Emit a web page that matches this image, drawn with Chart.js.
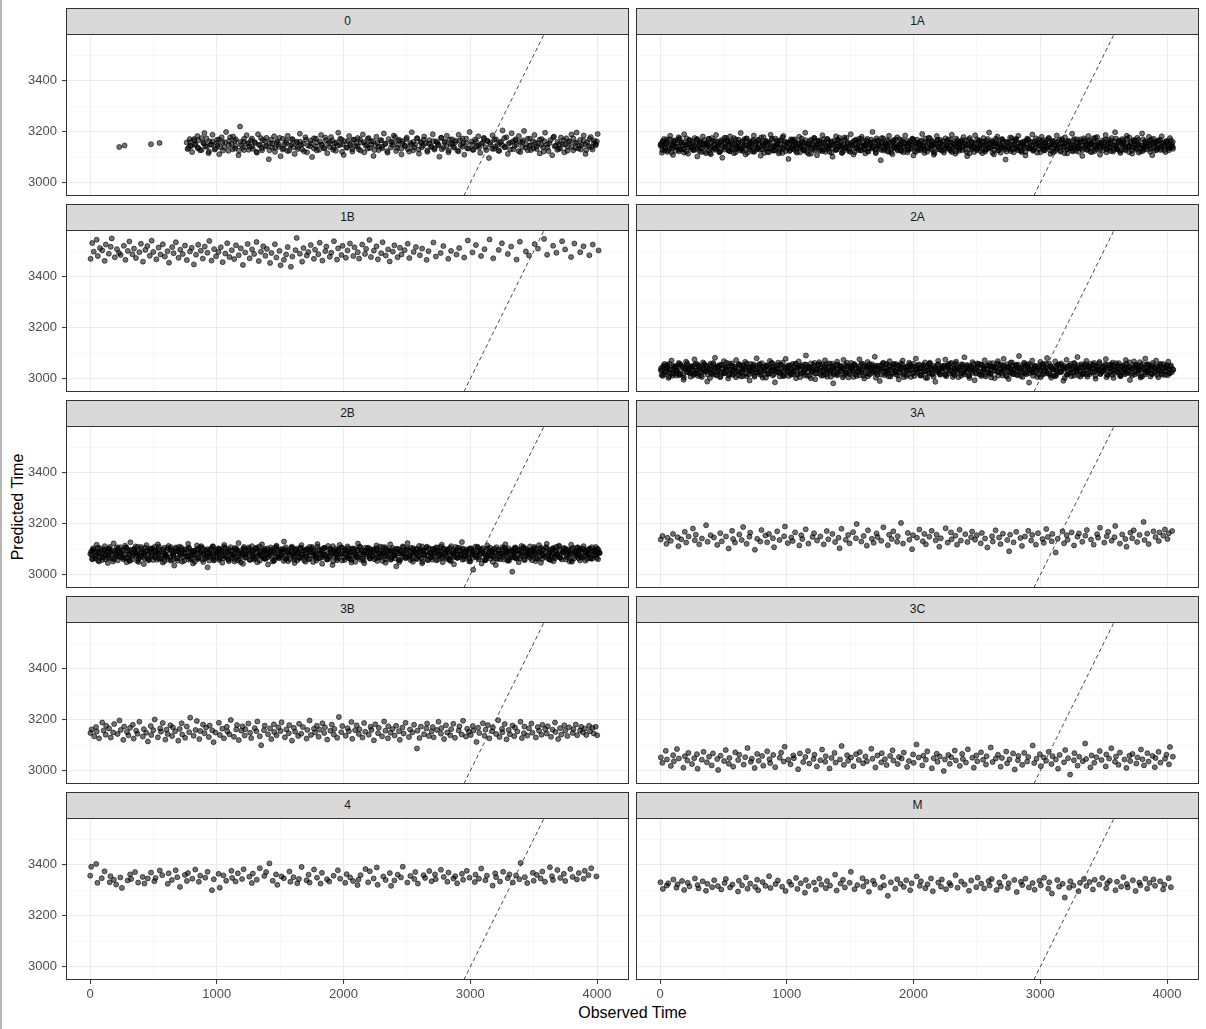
<!DOCTYPE html>
<html>
<head>
<meta charset="utf-8">
<script src="https://cdn.jsdelivr.net/npm/chart.js@4/dist/chart.umd.min.js"></script>
<style>
  html, body { margin: 0; padding: 0; background: #ffffff; }
  body { position: relative; width: 1206px; height: 1029px; overflow: hidden; font-family: "Liberation Sans", Arial, sans-serif; }
  .strip { position: absolute; background: #d9d9d9; border: 1px solid #333333; box-sizing: border-box; text-align: center; font-size: 12px; color: #1a1a1a; line-height: 25px; }
  canvas { position: absolute; }
  .xtitle { position: absolute; left: 66px; width: 1133px; top: 1004px; text-align: center; font-size: 16px; color: #000; line-height: 18px; }
  .ytitle { position: absolute; left: 18px; top: 507px; font-size: 16px; color: #000; white-space: nowrap; transform: translate(-50%, -50%) rotate(-90deg); line-height: 18px; }
  .edge { position: absolute; left: 0; top: 0; width: 2px; height: 1029px; background: #b5b5b5; }
</style>
</head>
<body>
<div class="edge"></div>
<div class="ytitle">Predicted Time</div>
<div class="xtitle">Observed Time</div>
<script>
// ---- facet labels and axis ticks ----
const panelNames = ['0', '1A', '1B', '2A', '2B', '3A', '3B', '3C', '4', 'M'];
const xTickValues = [0, 1000, 2000, 3000, 4000];
const xGridValues = [0, 500, 1000, 1500, 2000, 2500, 3000, 3500, 4000];
const yTickValues = [3000, 3200, 3400];
const yGridValues = [3000, 3100, 3200, 3300, 3400, 3500];
const xLimits = [-190, 4252];
const yLimits = [2948, 3583];
const identityEnds = [2900, 3700]; // y = x reference line

// ---- panel 0 ----
const obs_0 = [230,272,480,548,
762,769,786,791,805,823,829,847,853,868,880,897,902,921,934,940,
958,966,983,1001,1006,1019,1038,1044,1060,1073,1091,1097,1115,1128,1144,1150,1171,1183,1192,1210,
1216,1235,1249,1256,1277,1284,1298,1316,1325,1341,1357,1363,1384,1392,1410,1419,1436,1452,1459,1478,
1490,1503,1521,1527,1546,1559,1572,1590,1598,1614,1631,1640,1655,1673,1681,1699,1712,1720,1741,1752,
1766,1781,1789,1807,1823,1830,1849,1862,1871,1890,1901,1918,1931,1939,1958,1972,1983,2001,2009,2027,
2044,2050,2069,2083,2096,2111,2120,2138,2152,2163,2180,2191,2208,2217,2236,2251,2259,2277,2290,2302,
2318,2331,2347,2355,2374,2388,2396,2415,2429,2440,2457,2466,2484,2499,2507,2526,2538,2550,2566,2579,
2595,2608,2617,2636,2649,2661,2677,2690,2704,2717,2731,2745,2756,2772,2788,2797,2815,2827,2843,2856,
2866,2884,2899,2908,2925,2937,2953,2968,2976,2995,3010,3019,3037,3050,3063,3078,3089,3107,3119,3133,
3147,3158,3176,3188,3202,3216,3229,3243,3254,3271,3285,3296,3313,3326,3339,3354,3365,3383,3395,3409,
3424,3436,3451,3467,3478,3494,3506,3521,3535,3548,3563,3575,3590,3605,3617,3632,3646,3659,3673,3688,
3699,3715,3728,3742,3757,3769,3784,3798,3812,3826,3839,3853,3867,3880,3895,3909,3922,3937,3950,3964,
3978,3991,4005,
775,789,798,820,831,849,855,880,893,910,918,938,953,963,987,999,1018,1025,1048,1064,
1095,1105,1126,1142,1149,1175,1187,1206,1215,1238,1252,1270,1278,1302,1313,1333,1348,1354,1381,1394,
1415,1429,1438,1460,1471,1489,1495,1520,1533,1550,1558,1578,1593,1603,1627,1639,1658,1665,1688,1704,
1735,1745,1766,1782,1789,1815,1827,1846,1855,1878,1892,1910,1918,1942,1953,1973,1988,1994,2021,2034,
2055,2069,2078,2100,2111,2129,2135,2160,2173,2190,2198,2218,2233,2243,2267,2279,2298,2305,2328,2344,
2375,2385,2406,2422,2429,2455,2467,2486,2495,2518,2532,2550,2558,2582,2593,2613,2628,2634,2661,2674,
2695,2709,2718,2740,2751,2769,2775,2800,2813,2830,2838,2858,2873,2883,2907,2919,2938,2945,2968,2984,
3015,3025,3046,3062,3069,3095,3107,3126,3135,3158,3172,3190,3198,3222,3233,3253,3268,3274,3301,3314,
3335,3349,3358,3380,3391,3409,3415,3440,3453,3470,3478,3498,3513,3523,3547,3559,3578,3585,3608,3624,
3655,3665,3686,3702,3709,3735,3747,3766,3775,3798,3812,3830,3838,3862,3873,3893,3908,3914,3941,3954,
3975,3989,3998];
const pred_0 = [3140,3146,3151,3156,
3158,3132,3171,3145,3120,3166,3149,3183,3137,3127,3175,3154,3195,3141,3116,3162,3150,3188,3130,3168,
3146,3112,3178,3159,3139,3199,3125,3164,3152,3181,3135,3170,3108,3220,3147,3161,3128,3186,3156,3141,
3173,3133,3160,3118,3190,3148,3127,3167,3143,3176,3092,3155,3138,3182,3121,3163,3150,3104,3172,3135,
3157,3184,3126,3149,3169,3113,3161,3140,3192,3131,3153,3178,3119,3146,3165,3101,3174,3142,3158,3129,
3187,3150,3134,3167,3116,3160,3179,3139,3155,3125,3196,3148,3170,3109,3163,3137,3183,3152,3122,3168,
3144,3175,3131,3158,3189,3119,3151,3172,3136,3162,3105,3147,3180,3128,3166,3141,3193,3153,3118,3171,
3138,3159,3185,3124,3149,3168,3111,3163,3145,3177,3132,3156,3198,3127,3150,3174,3114,3160,3139,3181,
3155,3121,3167,3143,3190,3130,3162,3148,3102,3176,3137,3158,3184,3119,3152,3170,3141,3165,3126,3188,
3147,3173,3110,3156,3135,3199,3161,3129,3169,3144,3182,3117,3153,3176,3139,3164,3097,3158,3186,3133,
3170,3148,3125,3161,3205,3140,3178,3113,3157,3194,3131,3166,3149,3183,3120,3159,3203,3137,3172,3146,
3128,3163,3187,3142,3154,3115,3171,3139,3196,3150,3124,3167,3108,3181,3145,3160,3133,3177,3152,3119,
3174,3141,3162,3189,3127,3156,3197,3134,3168,3148,3185,3113,3159,3143,3179,3130,3165,3151,3191,3136,
3160,3144,3171,
3151,3136,3167,3128,3157,3143,3174,3122,3149,3162,3133,3155,3170,3140,3126,3159,3147,3178,3131,3164,
3145,3125,3160,3138,3172,3152,3129,3166,3142,3156,3121,3148,3175,3135,3163,3144,3127,3169,3153,3137,
3158,3141,3176,3130,3150,3165,3124,3146,3171,3139,3157,3132,3161,3149,3123,3168,3143,3154,3134,3173,
3127,3162,3148,3136,3177,3153,3140,3166,3129,3158,3145,3172,3121,3151,3138,3164,3147,3131,3169,3155,
3142,3170,3126,3159,3146,3134,3175,3150,3163,3128,3156,3141,3167,3135,3152,3124,3160,3148,3179,3137,
3165,3133,3154,3143,3171,3122,3149,3160,3139,3174,3130,3157,3146,3168,3127,3153,3140,3163,3135,3158,
3148,3176,3131,3162,3144,3126,3169,3152,3138,3159,3123,3166,3141,3155,3173,3134,3150,3129,3161,3145,
3137,3156,3172,3128,3164,3149,3133,3168,3142,3125,3158,3147,3175,3139,3153,3130,3162,3144,3170,3124,
3160,3140,3166,3151,3127,3173,3146,3135,3157,3132,3169,3148,3122,3163,3138,3155,3177,3143,3129,3152,
3134,3167,3149,3125,3161,3141,3174,3136,3158,3145,3130,3165,3150,3128,3171,3139,3156,3147,3162,3133,
3154,3143,3160];

// ---- panel 1A ----
const obs_1A = [6,14,31,38,55,63,80,97,102,119,128,146,151,170,183,190,207,221,229,248,
256,273,285,294,312,318,337,349,361,376,384,401,417,423,442,450,468,479,491,508,
515,533,547,552,571,582,596,611,617,636,648,659,675,684,703,711,729,740,754,768,
775,794,807,816,833,845,858,872,881,899,910,924,937,946,965,973,991,1004,1013,1032,
1040,1057,1071,1079,1098,1106,1123,1137,1145,1164,1172,1190,1201,1215,1229,1238,1256,1267,1281,1294,
1303,1321,1330,1347,1361,1369,1388,1395,1413,1426,1434,1453,1462,1479,1490,1504,1518,1527,1545,1556,
1569,1583,1591,1610,1619,1636,1649,1657,1676,1684,1702,1713,1727,1741,1749,1768,1777,1794,1806,1819,
1833,1842,1860,1871,1885,1898,1907,1925,1934,1951,1963,1976,1990,1999,2017,2026,2043,2055,2068,2082,
2090,2109,2118,2135,2147,2160,2174,2183,2201,2210,2227,2240,2252,2266,2275,2293,2302,2320,2331,2344,
2358,2366,2385,2394,2411,2423,2436,2450,2459,2477,2486,2503,2515,2528,2542,2551,2569,2578,2596,2607,
2620,2634,2643,2661,2670,2687,2699,2712,2726,2735,2753,2762,2779,2791,2804,2818,2827,2845,2854,2872,
2883,2896,2910,2919,2937,2946,2963,2975,2988,3002,3011,3029,3038,3055,3067,3080,3094,3103,3121,3130,
3147,3159,3172,3186,3195,3213,3222,3239,3251,3264,3278,3287,3305,3314,3331,3343,3356,3370,3379,3397,
3406,3423,3435,3448,3462,3471,3489,3498,3515,3527,3540,3554,3563,3581,3590,3607,3619,3632,3646,3655,
3673,3682,3699,3711,3724,3738,3747,3765,3774,3791,3803,3816,3830,3839,3857,3866,3883,3895,3908,3922,
3931,3949,3958,3975,3987,4000,4014,4023,4038,4047,
3,18,22,40,50,57,78,91,97,113,124,143,146,160,169,189,197,209,226,231,
253,266,274,294,298,314,325,343,349,364,373,394,397,409,426,433,452,462,476,481,
503,514,520,539,547,562,565,587,597,611,618,635,647,652,672,681,697,710,714,732,
743,752,769,774,787,807,818,822,838,846,868,882,888,907,919,922,940,950,965,972,
993,1000,1021,1033,1042,1058,1063,1077,1096,1104,1117,1120,1137,1147,1169,1175,1190,1201,1219,1223,
1243,1258,1262,1280,1290,1297,1318,1331,1337,1353,1364,1383,1386,1400,1409,1429,1437,1449,1466,1471,
1493,1506,1514,1534,1538,1554,1565,1583,1589,1604,1613,1634,1637,1649,1666,1673,1692,1702,1716,1721,
1743,1754,1760,1779,1787,1802,1805,1827,1837,1851,1858,1875,1887,1892,1912,1921,1937,1950,1954,1972,
1983,1992,2009,2014,2027,2047,2058,2062,2078,2086,2108,2122,2128,2147,2159,2162,2180,2190,2205,2212,
2233,2240,2261,2273,2282,2298,2303,2317,2336,2344,2357,2360,2377,2387,2409,2415,2430,2441,2459,2463,
2483,2498,2502,2520,2530,2537,2558,2571,2577,2593,2604,2623,2626,2640,2649,2669,2677,2689,2706,2711,
2733,2746,2754,2774,2778,2794,2805,2823,2829,2844,2853,2874,2877,2889,2906,2913,2932,2942,2956,2961,
2983,2994,3000,3019,3027,3042,3045,3067,3077,3091,3098,3115,3127,3132,3152,3161,3177,3190,3194,3212,
3223,3232,3249,3254,3267,3287,3298,3302,3318,3326,3348,3362,3368,3387,3399,3402,3420,3430,3445,3452,
3473,3480,3501,3513,3522,3538,3543,3557,3576,3584,3597,3600,3617,3627,3649,3655,3670,3681,3699,3703,
3723,3738,3742,3760,3770,3777,3798,3811,3817,3833,3844,3863,3866,3880,3889,3909,3917,3929,3946,3951,
3973,3986,3994,4014,4018,4034,4045,
10,19,36,41,54,74,85,89,105,113,135,149,155,174,186,189,207,217,232,239,
260,267,288,300,309,325,330,344,363,371,384,387,404,414,436,442,457,468,486,490,
510,523,531,551,555,571,582,600,606,621,630,651,654,666,683,690,709,719,733,738,
760,775,779,797,807,814,835,848,854,870,881,900,903,917,926,946,954,966,983,988,
1010,1021,1027,1046,1054,1069,1072,1094,1104,1118,1125,1142,1154,1159,1179,1188,1204,1217,1221,1239,
1250,1259,1276,1281,1294,1314,1325,1329,1345,1353,1375,1389,1395,1414,1426,1429,1447,1457,1472,1479,
1500,1507,1528,1540,1549,1565,1570,1584,1603,1611,1624,1627,1644,1654,1676,1682,1697,1708,1726,1730,
1750,1763,1771,1791,1795,1811,1822,1840,1846,1861,1870,1891,1894,1906,1923,1930,1949,1959,1973,1978,
2000,2015,2019,2037,2047,2054,2075,2088,2094,2110,2121,2140,2143,2157,2166,2186,2194,2206,2223,2228,
2250,2261,2267,2286,2294,2309,2312,2334,2344,2358,2365,2382,2394,2399,2419,2428,2444,2457,2461,2479,
2490,2499,2516,2521,2534,2554,2565,2569,2585,2593,2615,2629,2635,2654,2666,2669,2687,2697,2712,2719,
2740,2747,2768,2780,2789,2805,2810,2824,2843,2851,2864,2867,2884,2894,2916,2922,2937,2948,2966,2970,
2990,3003,3011,3031,3035,3051,3062,3080,3086,3101,3110,3131,3134,3146,3163,3170,3189,3199,3213,3218,
3240,3255,3259,3277,3287,3294,3315,3328,3334,3350,3361,3380,3383,3397,3406,3426,3434,3446,3463,3468,
3490,3501,3507,3526,3534,3549,3552,3574,3584,3598,3605,3622,3634,3639,3659,3668,3684,3697,3701,3719,
3730,3739,3756,3761,3774,3794,3805,3809,3825,3833,3855,3869,3875,3894,3906,3909,3927,3937,3952,3959,
3980,3987,4008,4020,4029,4045];
const pred_1A = [3152,3118,3171,3136,3160,3127,3184,3144,3109,3166,3139,3178,3123,3157,3131,3190,3148,3114,3168,3141,
3129,3175,3150,3103,3162,3137,3181,3121,3155,3146,3172,3112,3164,3133,3187,3142,3120,3158,3098,3176,
3140,3163,3125,3182,3151,3116,3170,3134,3159,3195,3128,3147,3111,3174,3138,3161,3122,3185,3145,3131,
3167,3106,3153,3179,3136,3160,3119,3188,3143,3127,3173,3150,3115,3165,3139,3183,3124,3157,3093,3170,
3135,3162,3148,3118,3180,3141,3157,3126,3196,3150,3113,3168,3132,3176,3144,3108,3163,3129,3186,3152,
3121,3171,3139,3159,3102,3147,3182,3130,3165,3143,3117,3177,3136,3154,3124,3190,3149,3111,3169,3138,
3161,3127,3180,3146,3115,3172,3134,3158,3199,3141,3120,3166,3150,3088,3175,3131,3155,3123,3184,3144,
3112,3167,3137,3178,3148,3126,3162,3140,3185,3119,3156,3133,3173,3107,3152,3169,3128,3145,3191,3135,
3159,3122,3176,3142,3164,3110,3150,3183,3131,3168,3146,3118,3174,3139,3155,3125,3188,3143,3114,3166,
3136,3160,3128,3179,3149,3104,3170,3141,3157,3120,3186,3134,3163,3147,3116,3175,3130,3152,3197,3138,
3165,3111,3154,3181,3127,3145,3171,3137,3091,3161,3132,3177,3148,3119,3167,3140,3184,3124,3156,3143,
3107,3173,3135,3160,3189,3129,3151,3118,3169,3144,3180,3126,3158,3138,3176,3113,3164,3147,3131,3185,
3150,3122,3167,3140,3178,3115,3157,3134,3192,3146,3125,3170,3139,3161,3105,3174,3143,3129,3183,3153,
3120,3163,3136,3179,3148,3110,3166,3141,3187,3130,3158,3124,3175,3145,3198,3133,3162,3117,3171,3151,
3127,3184,3142,3159,3114,3168,3137,3176,3149,3123,3193,3140,3163,3131,3180,3146,3108,3172,3155,3135,
3166,3128,3182,3144,3120,3161,3139,3175,3150,3133,
3147,3128,3163,3139,3155,3121,3170,3134,3151,3160,3125,3143,3168,3131,3157,3118,3149,3174,3137,3153,
3162,3127,3145,3171,3133,3158,3120,3148,3166,3140,3154,3116,3136,3175,3150,3129,3161,3144,3123,3167,
3138,3156,3176,3126,3146,3164,3132,3152,3119,3141,3169,3135,3159,3124,3148,3172,3130,3155,3142,3163,
3121,3150,3137,3168,3129,3157,3145,3117,3161,3134,3153,3173,3126,3146,3139,3165,3122,3151,3178,3132,
3158,3141,3124,3164,3148,3131,3170,3136,3155,3119,3160,3143,3127,3167,3138,3152,3114,3147,3174,3133,
3149,3166,3125,3140,3157,3130,3171,3145,3121,3162,3136,3154,3128,3168,3142,3159,3118,3151,3137,3176,
3131,3156,3144,3120,3165,3139,3152,3127,3172,3147,3134,3161,3123,3149,3169,3135,3158,3116,3143,3163,
3129,3153,3174,3138,3146,3122,3164,3132,3157,3141,3170,3126,3150,3137,3167,3119,3155,3144,3130,3162,
3148,3171,3124,3159,3136,3152,3128,3166,3142,3117,3160,3135,3175,3146,3121,3156,3139,3168,3131,3153,
3163,3127,3145,3169,3134,3158,3120,3150,3173,3138,3155,3125,3161,3143,3130,3166,3148,3115,3157,3136,
3152,3133,3170,3140,3124,3162,3147,3129,3165,3137,3154,3118,3159,3144,3172,3126,3151,3135,3164,3141,
3122,3157,3139,3175,3131,3149,3167,3128,3156,3143,3120,3161,3136,3153,3170,3134,3147,3125,3163,3138,
3158,3145,3119,3166,3132,3154,3140,3172,3127,3150,3160,3123,3146,3135,3168,3141,3157,3116,3152,3130,
3164,3137,3149,3126,3171,3143,3155,3121,3159,3134,3167,3148,3129,3162,3139,3153,3174,3124,3145,3160,
3132,3156,3142,3169,3119,3151,3136,3165,3128,3147,3173,3138,3158,3123,3144,3166,3131,3154,3140,3177,
3126,3150,3163,3135,3157,3118,3146,3170,3130,3152,3142,3165,3122,3155,3137,3161,3128,3149,3168,3133,
3156,3141,3164,3127,3151,3139,3160,
3143,3161,3126,3152,3170,3135,3148,3119,3165,3140,3156,3129,3174,3146,3133,3159,3122,3150,3167,3138,
3155,3131,3169,3144,3124,3160,3137,3153,3116,3147,3172,3128,3157,3141,3164,3134,3151,3120,3162,3145,
3130,3166,3149,3123,3158,3139,3175,3132,3154,3143,3127,3163,3136,3171,3148,3118,3156,3141,3168,3125,
3160,3137,3152,3177,3129,3146,3164,3121,3155,3134,3170,3142,3126,3158,3150,3133,3166,3117,3147,3161,
3136,3153,3128,3169,3144,3159,3123,3151,3138,3173,3131,3157,3145,3120,3163,3135,3154,3167,3127,3149,
3162,3139,3156,3124,3171,3142,3133,3160,3148,3118,3165,3130,3152,3176,3137,3146,3125,3168,3143,3157,
3121,3150,3164,3135,3155,3128,3172,3141,3158,3132,3147,3166,3122,3153,3139,3161,3129,3174,3144,3134,
3159,3126,3148,3167,3140,3155,3119,3163,3137,3151,3131,3170,3145,3124,3157,3142,3165,3128,3152,3136,
3168,3143,3121,3156,3134,3162,3147,3127,3173,3139,3154,3130,3160,3149,3117,3166,3141,3158,3125,3150,
3135,3163,3145,3129,3170,3138,3153,3123,3159,3146,3132,3167,3142,3156,3120,3148,3175,3131,3161,3140,
3154,3127,3166,3143,3136,3160,3122,3149,3171,3134,3157,3144,3128,3164,3139,3152,3118,3169,3146,3130,
3158,3141,3124,3163,3150,3133,3172,3137,3155,3126,3161,3147,3121,3166,3143,3135,3159,3129,3174,3151,
3132,3162,3140,3157,3127,3168,3145,3138,3153,3119,3164,3136,3160,3148,3125,3171,3142,3155,3131,3163,
3147,3123,3165,3139,3158,3134,3170,3144,3128,3161,3150,3137,3167,3121,3154,3143,3176,3130,3156,3141,
3126,3159,3148,3133,3169,3140,3155,3122,3162,3145,3131,3166,3152,3127,3160,3138,3173,3144,3120,3157,
3139,3164,3129,3151,3168,3135,3146,3124,3161,3142,3156,3132,3170,3148,3126,3159,3137,3165,3143,3153,
3128,3160,3145,3134,3166,3141];

// ---- panel 1B ----
const obs_1B = [4,17,29,52,61,78,96,115,124,148,163,171,195,212,228,241,266,279,298,310,
334,347,362,389,401,417,436,452,471,486,499,523,541,556,574,590,611,623,648,659,
677,698,712,731,749,763,788,802,819,836,853,874,889,905,926,941,958,979,994,1013,
1031,1046,1067,1082,1100,1118,1137,1151,1173,1189,1206,1224,1243,1259,1278,1294,1313,1331,1348,1366,
1383,1395,1420,1431,1458,1470,1494,1503,1529,1547,1559,1584,1596,1621,1630,1655,1673,1684,1709,1722,
1741,1766,1775,1801,1812,1833,1856,1864,1891,1903,1924,1948,1957,1983,1992,2018,2031,2050,2077,2086,
2112,2123,2147,2169,2178,2204,2216,2239,2260,2271,2297,2308,2333,2352,2364,2389,2401,2426,2445,2457,
2482,2506,2519,2553,2571,2602,2620,2655,2670,2709,2728,2766,2787,2826,2848,2891,2912,2952,2980,3017,
3044,3085,3112,3152,3181,3224,3249,3296,3322,3365,3391,3438,3463,3507,3534,3582,3606,3653,3679,3724,
3748,3795,3821,3867,3893,3939,3966,4012];
const pred_1B = [3470,3532,3498,3545,3481,3512,3503,3462,3526,3490,3517,3550,3476,3508,3493,3485,3521,3466,3501,3538,
3488,3510,3473,3496,3529,3459,3505,3520,3482,3541,3497,3468,3514,3487,3527,3479,3500,3455,3516,3492,
3535,3474,3506,3489,3522,3465,3499,3513,3448,3486,3525,3502,3471,3518,3494,3540,3463,3508,3480,3497,
3515,3457,3491,3531,3477,3504,3469,3523,3484,3511,3446,3495,3528,3472,3507,3489,3536,3461,3498,3519,
3482,3509,3454,3493,3527,3475,3501,3445,3466,3487,3516,3439,3479,3504,3552,3490,3459,3512,3483,3497,
3524,3470,3506,3488,3533,3463,3500,3518,3478,3494,3539,3467,3511,3485,3521,3474,3503,3530,3481,3515,
3496,3471,3526,3489,3509,3544,3477,3502,3519,3468,3492,3535,3483,3507,3460,3498,3523,3476,3513,3487,
3504,3529,3473,3497,3516,3484,3510,3466,3500,3534,3479,3493,3520,3470,3501,3487,3512,3475,3542,3495,
3524,3481,3508,3546,3472,3505,3531,3489,3518,3467,3537,3499,3483,3528,3510,3548,3486,3521,3494,3539,
3507,3477,3530,3496,3519,3484,3526,3503];

// ---- panel 2A ----
const obs_2A = [9,21,33,40,58,67,83,90,109,118,131,147,152,170,186,194,205,223,236,241,
259,271,280,298,307,322,339,345,363,372,388,396,414,428,433,451,466,474,490,503,
512,529,537,555,568,576,593,600,619,633,640,657,671,679,698,706,721,737,745,762,
777,784,803,810,826,841,849,866,880,888,906,913,931,944,952,969,984,991,1009,1017,
1035,1046,1055,1073,1087,1094,1112,1120,1138,1151,1159,1176,1190,1197,1216,1224,1240,1255,1262,1280,
1293,1301,1319,1327,1344,1358,1366,1383,1397,1404,1423,1430,1447,1462,1469,1487,1500,1508,1526,1534,
1551,1565,1573,1590,1604,1611,1630,1637,1654,1669,1676,1694,1707,1715,1733,1741,1758,1772,1780,1797,
1811,1818,1837,1844,1861,1876,1883,1901,1914,1922,1940,1948,1965,1979,1987,2004,2018,2025,2044,2051,
2068,2083,2090,2108,2121,2129,2147,2155,2172,2186,2194,2211,2225,2232,2251,2258,2275,2290,2297,2315,
2328,2336,2354,2362,2379,2393,2401,2418,2432,2439,2458,2465,2482,2497,2504,2522,2535,2543,2561,2569,
2586,2600,2608,2625,2639,2646,2665,2672,2689,2704,2711,2729,2742,2750,2768,2776,2793,2807,2815,2832,
2846,2853,2872,2879,2896,2911,2918,2936,2949,2957,2975,2983,3000,3014,3022,3039,3053,3060,3079,3086,
3103,3118,3125,3143,3156,3164,3182,3190,3207,3221,3229,3246,3260,3267,3286,3293,3310,3325,3332,3350,
3363,3371,3389,3397,3414,3428,3436,3453,3467,3474,3493,3500,3517,3532,3539,3557,3570,3578,3596,3604,
3621,3635,3643,3660,3674,3681,3700,3707,3724,3739,3746,3764,3777,3785,3803,3811,3828,3842,3850,3867,
3881,3888,3907,3914,3931,3946,3953,3971,3984,3992,4010,4018,4031,4046,
5,12,33,45,54,70,75,89,108,116,129,132,149,159,181,187,202,213,231,235,
255,264,281,286,299,319,330,334,350,358,380,394,400,419,431,434,452,462,477,484,
505,516,522,541,549,564,567,589,599,613,620,637,649,654,674,683,699,712,716,734,
745,758,766,786,790,806,817,835,841,856,865,886,889,901,918,925,944,954,968,973,
995,1010,1014,1032,1042,1049,1070,1083,1089,1105,1116,1135,1138,1152,1161,1181,1189,1201,1218,1223,
1245,1252,1273,1285,1294,1310,1315,1329,1348,1356,1369,1372,1389,1399,1421,1427,1442,1453,1471,1475,
1495,1504,1521,1526,1539,1559,1570,1574,1590,1598,1620,1634,1640,1659,1671,1674,1692,1702,1717,1724,
1745,1756,1762,1781,1789,1804,1807,1829,1839,1853,1860,1877,1889,1894,1914,1923,1939,1952,1956,1974,
1985,1998,2006,2026,2030,2046,2057,2075,2081,2096,2105,2126,2129,2141,2158,2165,2184,2194,2208,2213,
2235,2250,2254,2272,2282,2289,2310,2323,2329,2345,2356,2375,2378,2392,2401,2421,2429,2441,2458,2463,
2485,2492,2513,2525,2534,2550,2555,2569,2588,2596,2609,2612,2629,2639,2661,2667,2682,2693,2711,2715,
2735,2744,2761,2766,2779,2799,2810,2814,2830,2838,2860,2874,2880,2899,2911,2914,2932,2942,2957,2964,
2985,2996,3002,3021,3029,3044,3047,3069,3079,3093,3100,3117,3129,3134,3154,3163,3179,3192,3196,3214,
3225,3238,3246,3266,3270,3286,3297,3315,3321,3336,3345,3366,3369,3381,3398,3405,3424,3434,3448,3453,
3475,3490,3494,3512,3522,3529,3550,3563,3569,3585,3596,3615,3618,3632,3641,3661,3669,3681,3698,3703,
3725,3732,3753,3765,3774,3790,3795,3809,3828,3836,3849,3852,3869,3879,3901,3907,3922,3933,3951,3955,
3975,3984,4001,4006,4019,4039,
14,25,31,50,58,73,76,98,108,122,129,146,158,163,183,192,208,221,225,243,
254,269,273,291,301,308,329,342,348,364,375,394,397,411,420,440,448,460,477,482,
504,517,525,545,549,565,576,594,600,615,624,645,648,660,677,684,703,713,727,732,
754,761,782,794,803,819,824,838,857,865,878,881,898,908,930,936,951,962,980,984,
1004,1013,1030,1035,1048,1068,1079,1083,1099,1107,1129,1143,1149,1168,1180,1183,1201,1211,1226,1233,
1254,1265,1271,1290,1298,1313,1316,1338,1348,1362,1369,1386,1398,1403,1423,1432,1448,1461,1465,1483,
1494,1509,1513,1531,1541,1548,1569,1582,1588,1604,1615,1634,1637,1651,1660,1680,1688,1700,1717,1722,
1744,1757,1765,1785,1789,1805,1816,1834,1840,1855,1864,1885,1888,1900,1917,1924,1943,1953,1967,1972,
1994,2001,2022,2034,2043,2059,2064,2078,2097,2105,2118,2121,2138,2148,2170,2176,2191,2202,2220,2224,
2244,2253,2270,2275,2288,2308,2319,2323,2339,2347,2369,2383,2389,2408,2420,2423,2441,2451,2466,2473,
2494,2505,2511,2530,2538,2553,2556,2578,2588,2602,2609,2626,2638,2643,2663,2672,2688,2701,2705,2723,
2734,2749,2753,2771,2781,2788,2809,2822,2828,2844,2855,2874,2877,2891,2900,2920,2928,2940,2957,2962,
2984,2997,3005,3025,3029,3045,3056,3074,3080,3095,3104,3125,3128,3140,3157,3164,3183,3193,3207,3212,
3234,3241,3262,3274,3283,3299,3304,3318,3337,3345,3358,3361,3378,3388,3410,3416,3431,3442,3460,3464,
3484,3493,3510,3515,3528,3548,3559,3563,3579,3587,3609,3623,3629,3648,3660,3663,3681,3691,3706,3713,
3734,3745,3751,3770,3778,3793,3796,3818,3828,3842,3849,3866,3878,3883,3903,3912,3928,3941,3945,3963,
3974,3989,3993,4011,4021,4028,4049];
const pred_2A = [3042,3011,3058,3027,3049,3003,3036,3071,3019,3045,3030,3062,3014,3051,2996,3039,3067,3024,3047,3008,
3033,3076,3021,3055,3040,3012,3064,3029,3050,2989,3037,3059,3017,3044,3082,3026,3053,3006,3041,3069,
3022,3048,3001,3035,3060,3015,3043,3073,3028,3054,3009,3038,3066,3020,3046,2993,3031,3057,3013,3080,
3044,3025,3061,3004,3037,3052,3018,3070,3032,3047,2986,3039,3063,3023,3055,3010,3041,3078,3027,3050,
3016,3058,3034,3002,3045,3068,3021,3053,3036,3091,3012,3043,3060,3026,3049,2998,3038,3065,3019,3056,
3031,3072,3008,3046,3024,3059,2982,3040,3067,3015,3051,3033,3074,3020,3048,3005,3042,3062,3028,3054,
3011,3039,3076,3025,3057,3001,3044,3066,3017,3050,3034,3086,3022,3047,2991,3037,3061,3014,3055,3030,
3069,3009,3043,3058,3026,3052,2997,3040,3071,3018,3046,3032,3063,3007,3049,3024,3079,3036,3056,3013,
3045,3027,3064,3003,3038,3059,3021,3051,2988,3034,3070,3016,3048,3041,3075,3010,3053,3029,3062,3019,
3042,3067,3006,3035,3057,3023,3084,3039,3012,3050,3031,3065,2994,3044,3060,3017,3054,3028,3072,3009,
3037,3061,3020,3048,3002,3043,3069,3025,3056,3033,3078,3014,3046,2999,3040,3064,3018,3052,3030,3089,
3011,3045,3063,3022,3055,2985,3038,3071,3027,3049,3007,3041,3066,3015,3058,3034,3081,3020,3047,3004,
3036,3068,3013,3053,3029,3060,2992,3044,3074,3021,3050,3010,3039,3062,3026,3085,3031,3057,3016,3046,
3070,3008,3042,3059,3024,3052,3000,3037,3066,3019,3048,3033,3077,3014,3055,3041,3063,3003,3045,3028,
3061,3012,3050,3035,3073,3022,3047,2995,3040,3068,3017,3054,3031,3065,3009,3043,3079,3025,3056,3036,
3018,3062,3039,3071,3006,3049,3029,3058,3015,3044,3067,3023,3052,3037,
3034,3015,3051,3026,3043,3009,3058,3021,3039,3048,3013,3031,3055,3018,3045,3005,3037,3061,3024,3041,
3050,3014,3033,3059,3020,3046,3007,3036,3053,3027,3042,3003,3023,3062,3038,3016,3049,3032,3010,3054,
3025,3044,3063,3012,3035,3052,3019,3040,3006,3029,3057,3022,3047,3011,3036,3060,3017,3043,3030,3051,
3008,3038,3024,3056,3016,3045,3033,3004,3049,3021,3041,3061,3013,3034,3027,3053,3009,3039,3064,3019,
3046,3028,3011,3052,3036,3018,3058,3023,3043,3006,3048,3031,3014,3055,3025,3040,3002,3035,3062,3020,
3037,3054,3012,3027,3045,3017,3059,3033,3008,3050,3023,3042,3015,3056,3030,3047,3005,3039,3024,3063,
3018,3044,3032,3007,3053,3026,3040,3014,3060,3035,3021,3049,3010,3037,3057,3022,3046,3004,3031,3051,
3016,3041,3062,3025,3034,3009,3052,3019,3045,3029,3058,3013,3038,3024,3055,3006,3043,3032,3017,3050,
3036,3059,3011,3047,3023,3040,3015,3054,3030,3004,3048,3022,3063,3034,3008,3044,3026,3056,3018,3041,
3051,3014,3033,3057,3021,3046,3007,3038,3061,3025,3043,3012,3049,3031,3017,3054,3036,3003,3045,3023,
3040,3020,3058,3028,3011,3050,3035,3016,3053,3024,3042,3005,3047,3032,3060,3013,3039,3022,3052,3029,
3009,3045,3026,3063,3018,3037,3055,3015,3044,3030,3007,3049,3023,3041,3058,3021,3035,3012,3051,3025,
3046,3033,3006,3054,3019,3042,3027,3060,3014,3038,3048,3010,3034,3022,3056,3028,3045,3003,3040,3017,
3052,3024,3037,3013,3059,3031,3043,3008,3047,3021,3055,3036,3016,3050,3026,3041,3062,3011,3033,3048,
3019,3044,3029,3057,3006,3039,3023,3053,3015,3035,3061,3025,3046,3010,3032,3054,3018,3042,3027,3064,
3013,3038,3051,3022,3045,3005,3034,3058,3017,3040,3030,3053,3009,3043,3024,3049,3015,3036,3056,3020,
3044,3028,3052,3014,3039,3026,
3031,3048,3017,3040,3056,3024,3036,3012,3051,3029,3044,3020,3058,3034,3015,3047,3027,3053,3038,3022,
3045,3019,3055,3033,3011,3049,3026,3041,3059,3030,3016,3052,3037,3023,3057,3042,3013,3046,3028,3054,
3021,3043,3035,3060,3018,3050,3032,3025,3047,3014,3056,3039,3027,3053,3044,3010,3035,3058,3022,3041,
3049,3026,3057,3036,3015,3045,3030,3052,3020,3042,3061,3033,3018,3048,3038,3024,3055,3029,3012,3046,
3034,3053,3019,3040,3027,3059,3043,3016,3050,3031,3023,3056,3037,3048,3011,3044,3028,3054,3035,3021,
3057,3032,3046,3014,3051,3039,3025,3060,3030,3043,3018,3053,3036,3022,3049,3041,3013,3055,3027,3047,
3024,3050,3038,3058,3017,3044,3029,3054,3034,3012,3048,3040,3021,3057,3032,3045,3026,3052,3015,3039,
3053,3028,3042,3019,3059,3035,3047,3023,3055,3031,3016,3050,3038,3060,3025,3044,3011,3049,3033,3057,
3020,3046,3036,3054,3027,3041,3013,3052,3030,3048,3022,3058,3039,3017,3045,3034,3056,3024,3043,3029,
3051,3018,3047,3037,3059,3026,3042,3014,3053,3033,3046,3021,3055,3040,3028,3050,3012,3044,3035,3058,
3023,3049,3031,3056,3016,3043,3038,3052,3025,3047,3019,3061,3032,3045,3027,3054,3036,3013,3050,3041,
3057,3030,3044,3022,3051,3034,3048,3015,3055,3039,3026,3058,3042,3018,3046,3031,3053,3024,3040,3049,
3017,3054,3033,3045,3028,3059,3041,3020,3050,3036,3012,3047,3030,3056,3043,3025,3052,3038,3015,3046,
3035,3058,3023,3048,3039,3014,3053,3029,3044,3021,3057,3034,3049,3018,3042,3055,3027,3047,3032,3060,
3026,3045,3037,3052,3016,3041,3056,3030,3048,3022,3054,3035,3013,3050,3040,3024,3059,3033,3046,3019,
3043,3055,3028,3049,3036,3011,3051,3038,3024,3057,3032,3045,3020,3053,3041,3027,3048,3034,3058,3016,
3044,3030,3052,3039,3021,3047,3035];

// ---- panel 2B ----
const obs_2B = [8,19,25,44,52,67,70,92,102,116,123,140,152,157,177,186,202,215,219,237,
248,255,276,288,297,313,318,332,351,359,372,375,392,402,424,430,445,456,474,478,
498,513,517,535,545,552,573,586,592,608,619,638,641,655,664,684,692,704,721,726,
748,757,774,779,792,812,823,827,843,851,873,887,893,912,924,927,945,955,970,977,
998,1011,1019,1039,1043,1059,1070,1088,1094,1109,1118,1139,1142,1154,1171,1178,1197,1207,1221,1226,
1248,1259,1277,1281,1294,1310,1319,1339,1344,1356,1373,1380,1394,1404,1426,1429,1444,1452,1471,1477,
1488,1508,1512,1530,1541,1556,1562,1584,1594,1611,1614,1627,1635,1654,1668,1673,1689,1698,1710,1731,
1738,1760,1765,1782,1794,1802,1822,1831,1845,1848,1867,1878,1894,1900,1913,1934,1941,1951,1969,1973,
1988,2009,2016,2031,2041,2059,2062,2074,2093,2099,2113,2135,2143,2159,2163,2174,2194,2207,2212,2229,
2238,2260,2265,2279,2289,2308,2315,2332,2344,2347,2368,2377,2392,2398,2416,2427,2443,2447,2467,2475,
2488,2499,2505,2524,2532,2547,2550,2572,2582,2596,2603,2620,2632,2637,2657,2666,2682,2695,2699,2717,
2728,2743,2747,2765,2775,2782,2803,2816,2822,2838,2849,2868,2871,2885,2894,2914,2922,2934,2951,2956,
2978,2991,2999,3019,3023,3039,3050,3068,3074,3089,3098,3119,3122,3134,3151,3158,3177,3187,3201,3206,
3228,3235,3256,3268,3277,3293,3298,3312,3331,3339,3352,3355,3372,3382,3404,3410,3425,3436,3454,3458,
3478,3487,3504,3509,3522,3542,3553,3557,3573,3581,3603,3617,3623,3642,3654,3657,3675,3685,3700,3707,
3728,3748,3752,3770,3781,3796,3802,3824,3834,3851,3854,3867,3875,3894,3908,3913,3929,3938,3950,3971,
3978,3990,3999,4012,4021,
2,15,23,43,47,63,74,92,98,113,122,143,146,158,175,182,201,211,225,230,
252,263,269,288,296,311,314,336,346,360,367,384,396,401,421,430,446,459,463,481,
492,507,511,529,539,546,567,580,586,602,613,632,635,649,658,678,686,698,715,720,
742,749,770,782,791,807,812,826,845,853,866,869,886,896,918,924,939,950,968,972,
992,1001,1018,1023,1036,1056,1067,1071,1087,1095,1117,1131,1137,1156,1168,1171,1189,1199,1214,1221,
1242,1255,1263,1283,1287,1303,1314,1332,1338,1353,1362,1383,1386,1398,1415,1422,1441,1451,1465,1470,
1492,1503,1509,1528,1536,1551,1554,1576,1586,1600,1607,1624,1636,1641,1661,1670,1686,1699,1703,1721,
1732,1747,1751,1769,1779,1786,1807,1820,1826,1842,1853,1872,1875,1889,1898,1918,1926,1938,1955,1960,
1982,1989,2010,2022,2031,2047,2052,2066,2085,2093,2106,2109,2126,2136,2158,2164,2179,2190,2208,2212,
2232,2241,2258,2263,2276,2296,2307,2311,2327,2335,2357,2371,2377,2396,2408,2411,2429,2439,2454,2461,
2482,2495,2503,2523,2527,2543,2554,2572,2578,2593,2602,2623,2626,2638,2655,2662,2681,2691,2705,2710,
2732,2743,2749,2768,2776,2791,2794,2816,2826,2840,2847,2864,2876,2881,2901,2910,2926,2939,2943,2961,
2972,2987,2991,3009,3019,3026,3047,3060,3066,3082,3093,3112,3115,3129,3138,3158,3166,3178,3195,3200,
3222,3229,3250,3262,3271,3287,3292,3306,3325,3333,3346,3349,3366,3376,3398,3404,3419,3430,3448,3452,
3472,3481,3498,3503,3516,3536,3547,3551,3567,3575,3597,3611,3617,3636,3648,3651,3669,3679,3694,3701,
3722,3735,3743,3763,3767,3783,3794,3812,3818,3833,3842,3863,3866,3878,3895,3902,3921,3931,3945,3950,
3972,3983,3989,4008,4016,
12,19,40,52,61,77,82,96,115,123,136,139,156,166,188,194,209,220,238,242,
262,275,283,303,307,323,334,352,358,373,382,403,406,418,435,442,461,471,485,490,
512,521,538,543,556,576,587,591,607,615,637,651,657,676,688,691,709,719,734,741,
762,773,779,798,806,821,824,846,856,870,877,894,906,911,931,940,956,969,973,991,
1002,1017,1021,1039,1049,1056,1077,1090,1096,1112,1123,1142,1145,1159,1168,1188,1196,1208,1225,1230,
1252,1259,1280,1292,1301,1317,1322,1336,1355,1363,1376,1379,1396,1406,1428,1434,1449,1460,1478,1482,
1502,1515,1523,1543,1547,1563,1574,1592,1598,1613,1622,1643,1646,1658,1675,1682,1701,1711,1725,1730,
1752,1761,1778,1783,1796,1816,1827,1831,1847,1855,1877,1891,1897,1916,1928,1931,1949,1959,1974,1981,
2002,2013,2019,2038,2046,2061,2064,2086,2096,2110,2117,2134,2146,2151,2171,2180,2196,2209,2213,2231,
2242,2257,2261,2279,2289,2296,2317,2330,2336,2352,2363,2382,2385,2399,2408,2428,2436,2448,2465,2470,
2492,2499,2520,2532,2541,2557,2562,2576,2595,2603,2616,2619,2636,2646,2668,2674,2689,2700,2718,2722,
2742,2755,2763,2783,2787,2803,2814,2832,2838,2853,2862,2883,2886,2898,2915,2922,2941,2951,2965,2970,
2992,3001,3018,3023,3036,3056,3067,3071,3087,3095,3117,3131,3137,3156,3168,3171,3189,3199,3214,3221,
3242,3253,3259,3278,3286,3301,3304,3326,3336,3350,3357,3374,3386,3391,3411,3420,3436,3449,3453,3471,
3482,3497,3501,3519,3529,3536,3557,3570,3576,3592,3603,3622,3625,3639,3648,3668,3676,3688,3705,3710,
3732,3739,3760,3772,3781,3797,3802,3816,3835,3843,3856,3859,3876,3886,3908,3914,3929,3940,3958,3962,
3982,3995,4003,4018];
const pred_2B = [3090,3061,3104,3073,3118,3085,3052,3097,3069,3112,3079,3046,3101,3088,3064,3123,3075,3095,3057,3108,
3082,3067,3114,3049,3093,3076,3127,3060,3099,3084,3054,3109,3071,3091,3042,3080,3116,3065,3102,3087,
3058,3096,3074,3119,3063,3089,3048,3106,3081,3070,3113,3055,3098,3078,3036,3092,3066,3110,3084,3051,
3100,3072,3121,3059,3087,3044,3094,3077,3115,3062,3083,3105,3050,3091,3068,3029,3097,3080,3111,3056,
3086,3103,3066,3093,3047,3117,3074,3089,3059,3108,3081,3052,3099,3070,3124,3062,3085,3043,3101,3077,
3095,3058,3112,3083,3069,3104,3049,3090,3076,3119,3063,3097,3081,3040,3107,3072,3092,3055,3114,3086,
3067,3100,3078,3130,3061,3094,3053,3088,3110,3074,3046,3102,3084,3065,3116,3079,3057,3098,3071,3109,
3089,3050,3096,3075,3120,3064,3087,3043,3105,3080,3060,3113,3073,3093,3038,3085,3101,3068,3117,3083,
3056,3099,3077,3111,3066,3090,3048,3103,3082,3071,3122,3059,3095,3078,3045,3106,3087,3063,3100,3074,
3092,3115,3054,3086,3069,3108,3081,3047,3097,3072,3119,3061,3089,3076,3033,3102,3084,3058,3111,3079,
3065,3096,3124,3071,3088,3051,3104,3080,3062,3113,3091,3045,3098,3075,3110,3057,3085,3069,3101,3082,
3107,3060,3093,3077,3118,3049,3087,3070,3099,3056,3112,3083,3041,3095,3067,3106,3079,3128,3062,3090,
3074,3101,3052,3086,3020,3110,3068,3092,3081,3044,3104,3076,3058,3115,3089,3063,3097,3072,3038,3108,
3083,3061,3100,3078,3119,3055,3094,3070,3012,3088,3106,3066,3092,3049,3113,3080,3059,3102,3086,3073,
3097,3057,3109,3081,3064,3116,3090,3047,3099,3075,3121,3062,3086,3071,3105,3053,3093,3078,3114,3068,
3088,3103,3060,3095,3076,3118,3051,3091,3083,3107,3065,3098,3072,3112,3055,3087,3079,3101,3063,3094,
3080,3109,3066,3097,3085,
3081,3062,3098,3073,3090,3056,3105,3068,3086,3095,3060,3078,3102,3065,3092,3052,3084,3108,3071,3088,
3097,3061,3080,3106,3067,3093,3054,3083,3100,3074,3089,3050,3070,3109,3085,3063,3096,3079,3057,3101,
3072,3091,3110,3059,3082,3099,3066,3087,3053,3076,3104,3069,3094,3058,3083,3107,3064,3090,3077,3098,
3055,3085,3071,3103,3063,3092,3080,3051,3096,3068,3088,3108,3060,3081,3074,3100,3056,3086,3111,3066,
3093,3075,3058,3099,3083,3065,3105,3070,3090,3053,3095,3078,3061,3102,3072,3087,3049,3082,3109,3067,
3084,3101,3059,3074,3092,3064,3106,3080,3055,3097,3070,3089,3062,3103,3077,3094,3052,3086,3071,3110,
3065,3091,3079,3054,3100,3073,3087,3061,3107,3082,3068,3096,3057,3084,3104,3069,3093,3051,3078,3098,
3063,3088,3109,3072,3081,3056,3099,3066,3092,3076,3105,3060,3085,3071,3102,3053,3090,3079,3064,3097,
3083,3106,3058,3094,3070,3087,3062,3101,3077,3051,3095,3069,3110,3081,3055,3091,3073,3103,3065,3088,
3098,3061,3080,3104,3068,3093,3054,3085,3108,3072,3090,3059,3096,3078,3064,3101,3083,3050,3092,3070,
3087,3067,3105,3075,3058,3097,3082,3063,3100,3071,3089,3052,3094,3079,3107,3060,3086,3069,3099,3076,
3056,3092,3073,3110,3065,3084,3102,3062,3091,3077,3054,3096,3070,3088,3105,3068,3082,3059,3098,3072,
3093,3080,3053,3101,3066,3089,3074,3107,3061,3085,3095,3057,3081,3069,3103,3075,3092,3050,3087,3064,
3099,3071,3084,3060,3106,3078,3090,3055,3094,3068,3102,3083,3063,3097,3073,3088,3109,3058,3080,3095,
3066,3091,3076,3104,3053,3086,3070,3100,3062,3082,3108,3072,3093,3057,3079,3101,3065,3089,3074,3111,
3060,3085,3098,3069,3092,3052,3081,3105,3064,3087,3077,3100,3056,3090,3071,3096,3062,3083,3103,3067,
3091,3075,3099,3061,3086,
3079,3097,3064,3088,3105,3071,3084,3058,3100,3076,3092,3067,3109,3081,3061,3095,3074,3103,3086,3069,
3093,3066,3107,3080,3057,3098,3073,3089,3111,3077,3062,3101,3085,3070,3106,3090,3059,3094,3075,3104,
3068,3091,3082,3110,3063,3099,3078,3072,3096,3060,3108,3087,3074,3102,3092,3055,3083,3107,3069,3089,
3098,3073,3106,3084,3061,3094,3077,3101,3066,3090,3112,3080,3064,3097,3086,3071,3104,3076,3058,3095,
3082,3102,3065,3088,3074,3109,3091,3062,3099,3078,3070,3105,3085,3096,3056,3093,3075,3103,3083,3067,
3107,3079,3094,3060,3100,3087,3072,3111,3077,3091,3064,3102,3084,3069,3098,3089,3057,3105,3073,3096,
3071,3099,3086,3108,3063,3092,3076,3104,3081,3058,3097,3088,3068,3106,3079,3094,3073,3101,3061,3087,
3103,3075,3090,3066,3110,3083,3096,3070,3105,3078,3062,3100,3086,3112,3072,3093,3057,3098,3080,3107,
3067,3095,3084,3104,3074,3089,3059,3102,3077,3097,3069,3108,3087,3063,3094,3081,3106,3071,3091,3076,
3100,3064,3096,3085,3110,3073,3090,3060,3103,3080,3094,3068,3105,3088,3075,3099,3058,3092,3082,3108,
3070,3098,3078,3106,3062,3091,3086,3101,3072,3096,3065,3111,3079,3093,3074,3104,3084,3059,3100,3089,
3107,3077,3092,3069,3101,3081,3097,3061,3105,3087,3073,3109,3090,3066,3095,3078,3103,3071,3088,3099,
3064,3104,3080,3093,3075,3110,3089,3067,3100,3083,3058,3097,3077,3106,3091,3072,3102,3086,3062,3094,
3082,3108,3070,3098,3087,3060,3103,3076,3092,3068,3107,3081,3099,3065,3090,3105,3074,3096,3079,3111,
3073,3094,3085,3102,3063,3089,3106,3078,3097,3069,3104,3083,3060,3100,3088,3071,3109,3080,3095,3066,
3091,3105,3075,3099,3084,3057,3101,3087,3072,3107,3079,3093,3067,3103,3090,3074,3098,3082,3108,3063,
3094,3077,3102,3086];

// ---- panel 3A ----
const obs_3A = [5,19,50,59,84,102,139,145,167,195,206,225,259,274,282,309,330,363,375,399,
425,451,475,487,520,541,568,576,591,625,644,655,683,705,711,748,766,791,800,831,
845,859,890,899,924,942,979,985,1007,1035,1046,1065,1099,1114,1122,1149,1170,1203,1215,1239,
1265,1291,1315,1327,1360,1381,1408,1416,1431,1465,1484,1495,1523,1545,1551,1588,1606,1631,1640,1671,
1685,1708,1716,1745,1762,1797,1807,1827,1840,1870,1875,1901,1917,1955,1967,1988,1995,2027,2046,2073,
2085,2097,2124,2143,2175,2182,2203,2215,2253,2269,2295,2300,2330,2343,2363,2373,2408,2425,2454,2462,
2485,2499,2530,2539,2564,2582,2619,2625,2647,2675,2686,2705,2739,2754,2762,2789,2810,2843,2855,2879,
2905,2928,2936,2965,2982,3017,3027,3047,3060,3090,3095,3121,3137,3175,3187,3208,3215,3247,3266,3293,
3305,3331,3355,3367,3400,3421,3448,3456,3471,3505,3524,3535,3563,3585,3591,3628,3646,3671,3680,3711,
3725,3737,3764,3783,3815,3822,3843,3855,3893,3909,3935,3940,3970,3983,4003,4013,4040];
const pred_3A = [3138,3152,3121,3145,3133,3160,3147,3112,3139,3168,3126,3150,3181,3135,3157,3119,3142,3194,3129,3155,
3146,3117,3163,3131,3150,3103,3172,3140,3126,3158,3136,3187,3121,3149,3165,3098,3141,3130,3175,3154,
3127,3160,3143,3108,3170,3136,3151,3189,3124,3146,3132,3166,3115,3155,3140,3178,3122,3148,3163,3134,
3150,3119,3171,3139,3160,3128,3145,3104,3180,3137,3156,3123,3167,3143,3199,3130,3152,3114,3174,3141,
3125,3162,3148,3133,3186,3116,3157,3140,3170,3129,3151,3203,3122,3164,3137,3100,3155,3145,3177,3131,
3160,3119,3149,3172,3135,3157,3110,3143,3182,3126,3166,3139,3153,3118,3176,3134,3159,3128,3147,3169,
3137,3155,3123,3164,3142,3107,3151,3130,3174,3146,3120,3161,3136,3092,3157,3127,3168,3144,3113,3150,
3172,3134,3156,3118,3163,3140,3125,3179,3148,3131,3160,3087,3141,3170,3123,3155,3137,3166,3115,3149,
3162,3129,3153,3175,3138,3118,3159,3145,3184,3126,3151,3168,3133,3147,3191,3122,3158,3140,3110,3165,
3143,3174,3128,3156,3207,3136,3161,3120,3170,3148,3132,3166,3153,3177,3140,3162,3171];

// ---- panel 3B ----
const obs_3B = [3,12,33,47,53,71,96,107,123,127,150,163,182,190,217,232,242,262,269,291,
303,315,337,344,364,374,389,416,424,443,456,479,483,499,510,535,553,559,573,594,
603,612,633,647,653,671,696,707,723,727,750,763,782,790,817,832,842,862,869,891,
903,915,937,944,964,974,989,1016,1024,1043,1056,1079,1083,1099,1110,1135,1153,1159,1173,1194,
1203,1220,1225,1249,1262,1271,1299,1313,1320,1339,1350,1372,1378,1404,1420,1430,1450,1453,1471,1486,
1503,1511,1537,1549,1568,1572,1593,1608,1618,1642,1649,1666,1679,1708,1714,1732,1743,1766,1775,1789,
1803,1812,1833,1847,1853,1871,1896,1907,1923,1927,1950,1963,1982,1990,2017,2032,2042,2062,2069,2091,
2103,2120,2125,2149,2162,2171,2199,2213,2220,2239,2250,2272,2278,2304,2320,2330,2350,2353,2371,2386,
2403,2415,2437,2444,2464,2474,2489,2516,2524,2543,2556,2579,2583,2599,2610,2635,2653,2659,2673,2694,
2703,2711,2737,2749,2768,2772,2793,2808,2818,2842,2849,2866,2879,2908,2914,2932,2943,2966,2975,2989,
3003,3020,3025,3049,3062,3071,3099,3113,3120,3139,3150,3172,3178,3204,3220,3230,3250,3253,3271,3286,
3303,3312,3333,3347,3353,3371,3396,3407,3423,3427,3450,3463,3482,3490,3517,3532,3542,3562,3569,3591,
3603,3611,3637,3649,3668,3672,3693,3708,3718,3742,3749,3766,3779,3808,3814,3832,3843,3866,3875,3889,
3903,3915,3937,3944,3964,3974,3989,4001];
const pred_3B = [3148,3162,3135,3171,3154,3127,3189,3158,3141,3176,3166,3130,3150,3183,3144,3197,3160,3121,3173,3152,
3139,3168,3180,3126,3157,3145,3192,3134,3163,3149,3115,3175,3140,3159,3201,3131,3166,3153,3187,3122,
3161,3144,3178,3136,3170,3155,3118,3164,3186,3142,3129,3173,3151,3208,3137,3160,3195,3124,3156,3181,
3147,3169,3132,3177,3158,3112,3150,3188,3140,3165,3127,3172,3154,3143,3199,3133,3162,3179,3120,3157,
3174,3138,3163,3185,3149,3128,3167,3155,3193,3135,3100,3159,3177,3143,3166,3124,3182,3152,3139,3170,
3156,3190,3131,3162,3147,3179,3118,3168,3153,3136,3184,3145,3171,3126,3160,3197,3140,3165,3150,3176,
3133,3161,3186,3148,3170,3122,3157,3181,3142,3164,3129,3211,3151,3175,3137,3167,3155,3191,3125,3159,
3178,3144,3163,3130,3187,3153,3141,3172,3160,3119,3182,3147,3168,3135,3193,3157,3127,3174,3149,3164,
3138,3176,3155,3121,3169,3146,3188,3132,3162,3150,3180,3087,3157,3128,3173,3143,3166,3185,3136,3154,
3171,3131,3160,3192,3145,3167,3124,3178,3150,3139,3163,3184,3129,3158,3174,3142,3196,3134,3165,3153,
3140,3175,3158,3113,3168,3148,3186,3137,3161,3179,3127,3155,3170,3144,3198,3132,3164,3151,3183,3123,
3160,3143,3177,3135,3169,3154,3192,3128,3147,3173,3138,3166,3185,3149,3130,3171,3157,3141,3180,3163,
3146,3174,3133,3161,3189,3152,3124,3167,3142,3178,3157,3136,3170,3148,3163,3181,3139,3158,3172,3150,
3165,3140,3176,3155,3168,3146,3172,3139];

// ---- panel 3C ----
const obs_3C = [6,18,45,54,85,103,109,133,148,184,195,215,223,252,269,291,296,329,343,369,
386,407,417,451,458,477,505,518,543,547,577,593,616,625,660,672,690,716,724,746,
766,778,805,814,845,863,869,893,908,944,955,975,983,1012,1029,1051,1056,1089,1103,1129,
1146,1167,1177,1211,1218,1237,1265,1278,1303,1307,1337,1353,1376,1385,1420,1432,1450,1476,1484,1506,
1526,1546,1568,1576,1602,1620,1632,1667,1676,1699,1715,1745,1749,1774,1787,1815,1834,1841,1875,1885,
1906,1923,1949,1963,1996,2001,2023,2040,2069,2077,2097,2108,2144,2159,2183,2189,2207,2238,2247,2274,
2286,2298,2325,2334,2365,2383,2389,2413,2428,2464,2475,2495,2503,2532,2549,2571,2576,2609,2623,2649,
2666,2687,2697,2731,2738,2757,2785,2798,2823,2827,2857,2873,2896,2905,2940,2952,2970,2996,3004,3026,
3046,3066,3088,3096,3122,3140,3152,3187,3196,3219,3235,3265,3269,3294,3307,3335,3354,3361,3395,3405,
3426,3443,3469,3483,3516,3521,3543,3560,3589,3597,3617,3628,3664,3679,3703,3709,3727,3758,3767,3794,
3806,3818,3845,3854,3885,3903,3909,3933,3948,3984,3995,4015,4023,4046];
const pred_3C = [3052,3031,3078,3044,3019,3061,3037,3085,3048,3012,3057,3040,3070,3026,3049,3065,3008,3043,3074,3033,
3055,3021,3068,3046,3003,3059,3038,3081,3027,3050,3016,3072,3042,3063,3024,3053,3089,3035,3047,3011,
3066,3039,3058,3020,3076,3045,3030,3062,3014,3051,3071,3036,3094,3043,3025,3060,3049,3006,3068,3034,
3054,3077,3028,3046,3063,3017,3041,3083,3035,3057,3009,3050,3070,3032,3044,3097,3023,3061,3039,3052,
3018,3065,3042,3073,3029,3056,3037,3086,3047,3013,3060,3033,3069,3045,3022,3058,3080,3040,3026,3054,
3048,3071,3015,3038,3064,3031,3103,3052,3021,3059,3043,3076,3010,3049,3067,3035,3056,2999,3044,3062,
3027,3053,3079,3040,3019,3066,3046,3032,3084,3051,3012,3060,3037,3072,3043,3024,3057,3091,3034,3048,
3063,3016,3050,3075,3029,3045,3068,3005,3041,3058,3023,3070,3036,3054,3099,3030,3047,3065,3018,3052,
3039,3074,3026,3057,3044,3008,3062,3033,3081,3049,2985,3041,3069,3020,3055,3037,3107,3046,3013,3060,
3031,3053,3077,3042,3017,3064,3048,3088,3035,3056,3023,3071,3044,3011,3059,3038,3066,3028,3052,3083,
3045,3021,3069,3036,3058,3014,3050,3074,3032,3047,3063,3025,3093,3055];

// ---- panel 4 ----
const obs_4 = [1,9,48,58,92,114,155,161,188,206,239,251,296,316,324,355,379,415,429,455,
481,507,517,550,569,613,620,645,675,688,709,748,764,772,807,830,858,869,909,927,
961,976,1014,1023,1052,1074,1115,1121,1148,1166,1199,1211,1256,1276,1284,1315,1339,1375,1389,1415,
1441,1467,1477,1510,1529,1573,1580,1605,1635,1648,1669,1708,1724,1732,1767,1790,1818,1829,1869,1887,
1921,1955,1973,2013,2024,2052,2075,2110,2118,2134,2173,2194,2207,2237,2262,2269,2313,2332,2365,2375,
2401,2427,2453,2467,2503,2527,2558,2566,2586,2631,2643,2676,2694,2721,2727,2768,2790,2819,2828,2866,
2881,2896,2934,2943,2972,2994,3035,3041,3068,3086,3119,3131,3176,3196,3204,3235,3259,3295,3309,3335,
3361,3387,3397,3430,3449,3493,3500,3525,3555,3568,3589,3628,3644,3652,3687,3710,3738,3749,3789,3807,
3841,3856,3894,3903,3932,3954,3995];
const pred_4 = [3357,3392,3403,3329,3347,3374,3331,3355,3341,3322,3350,3309,3338,3362,3344,3371,3330,3352,3326,3346,
3369,3335,3348,3377,3359,3325,3366,3340,3378,3351,3313,3360,3336,3367,3345,3381,3333,3357,3349,3372,
3300,3343,3364,3310,3358,3337,3376,3348,3334,3366,3344,3382,3353,3328,3365,3341,3386,3356,3371,3405,
3337,3362,3321,3354,3347,3373,3333,3351,3327,3344,3391,3339,3361,3330,3381,3349,3326,3368,3343,3334,
3357,3378,3345,3329,3363,3350,3336,3320,3342,3359,3383,3331,3374,3346,3389,3321,3354,3340,3367,3317,
3338,3361,3350,3392,3330,3356,3344,3371,3326,3359,3348,3375,3335,3362,3343,3380,3352,3333,3369,3346,
3355,3327,3364,3341,3376,3349,3332,3361,3345,3385,3339,3357,3318,3366,3351,3334,3372,3347,3362,3330,
3358,3343,3407,3351,3328,3368,3337,3360,3346,3373,3333,3390,3355,3340,3379,3348,3364,3336,3383,3352,
3342,3367,3345,3376,3359,3386,3354];

// ---- panel M ----
const obs_M = [3,22,53,65,105,129,138,173,190,218,232,275,296,303,336,362,373,411,427,456,
483,509,519,552,571,615,622,647,677,690,711,750,766,774,809,832,860,871,911,929,
963,990,1019,1035,1073,1084,1110,1143,1150,1171,1214,1228,1256,1273,1308,1317,1341,1381,1393,1424,
1443,1458,1496,1505,1534,1556,1597,1603,1630,1648,1681,1693,1738,1758,1766,1797,1821,1857,1871,1897,
1923,1942,1973,1985,2025,2049,2058,2093,2110,2138,2152,2195,2216,2223,2256,2282,2293,2331,2347,2376,
2403,2437,2455,2495,2506,2534,2557,2592,2600,2616,2655,2676,2689,2719,2744,2751,2795,2814,2847,2857,
2883,2910,2939,2955,2993,3004,3030,3063,3070,3091,3134,3148,3176,3193,3228,3237,3261,3301,3313,3344,
3363,3389,3415,3429,3465,3489,3520,3528,3548,3593,3605,3638,3656,3683,3689,3730,3752,3781,3790,3828,
3843,3862,3893,3905,3945,3969,3978,4013,4030];
const pred_M = [3331,3305,3318,3327,3342,3310,3323,3336,3301,3329,3315,3346,3320,3307,3335,3298,3325,3312,3339,3316,
3303,3328,3344,3311,3322,3295,3337,3319,3350,3306,3326,3313,3341,3300,3332,3317,3355,3309,3324,3338,
3314,3297,3333,3321,3348,3305,3327,3290,3340,3316,3330,3302,3345,3322,3308,3336,3318,3361,3299,3326,
3341,3311,3329,3372,3304,3320,3347,3315,3333,3294,3337,3323,3310,3352,3319,3278,3331,3306,3343,3325,
3313,3339,3300,3327,3354,3317,3335,3308,3323,3346,3296,3330,3314,3342,3304,3328,3319,3359,3310,3334,
3322,3298,3338,3312,3349,3326,3307,3336,3318,3344,3301,3330,3315,3353,3309,3327,3340,3293,3333,3320,
3345,3311,3328,3302,3337,3319,3349,3306,3331,3287,3340,3314,3325,3271,3310,3335,3318,3296,3329,3344,
3316,3332,3303,3341,3322,3348,3308,3327,3337,3300,3333,3314,3351,3324,3311,3339,3297,3330,3319,3345,
3306,3328,3342,3317,3335,3303,3321,3347,3312];

const panelObs = [obs_0, obs_1A, obs_1B, obs_2A, obs_2B, obs_3A, obs_3B, obs_3C, obs_4, obs_M];
const panelPred = [pred_0, pred_1A, pred_1B, pred_2A, pred_2B, pred_3A, pred_3B, pred_3C, pred_4, pred_M];

// ---- layout & styling ----
const FONT = '"Liberation Sans", Arial, sans-serif';
const PLOT_W = 563, PLOT_H = 162, ROW_PITCH = 196, FIRST_PLOT_TOP = 34, STRIP_H = 27;
const COL_LEFT = [66, 636];
const Y_AXIS_W = 66, X_AXIS_H = 24;

const framePlugin = {
  id: 'frame',
  afterDatasetsDraw(chart) {
    const { ctx, chartArea: a } = chart;
    ctx.save();
    ctx.strokeStyle = '#333333';
    ctx.lineWidth = 1;
    ctx.strokeRect(a.left + 0.5, a.top + 0.5, a.right - a.left - 1, a.bottom - a.top - 1);
    ctx.restore();
  }
};

function isMajorX(v) { return xTickValues.some(t => Math.abs(t - v) < 1e-6); }
function isMajorY(v) { return yTickValues.some(t => Math.abs(t - v) < 1e-6); }
function tickVal(c) { return c && c.tick ? c.tick.value : NaN; }

panelNames.forEach((name, i) => {
  const col = i % 2, row = Math.floor(i / 2);
  const plotLeft = COL_LEFT[col];
  const plotTop = FIRST_PLOT_TOP + ROW_PITCH * row;
  const showY = col === 0, showX = row === 4;

  const strip = document.createElement('div');
  strip.className = 'strip';
  strip.style.left = plotLeft + 'px';
  strip.style.top = (plotTop - STRIP_H + 1) + 'px';
  strip.style.width = PLOT_W + 'px';
  strip.style.height = STRIP_H + 'px';
  strip.textContent = name;
  document.body.appendChild(strip);

  const cw = PLOT_W + (showY ? Y_AXIS_W : 0);
  const ch = PLOT_H + (showX ? X_AXIS_H : 0);
  const canvas = document.createElement('canvas');
  canvas.width = cw; canvas.height = ch;
  canvas.style.width = cw + 'px'; canvas.style.height = ch + 'px';
  canvas.style.left = (plotLeft - (showY ? Y_AXIS_W : 0)) + 'px';
  canvas.style.top = plotTop + 'px';
  document.body.appendChild(canvas);

  const obs = panelObs[i], pred = panelPred[i];
  const n = Math.min(obs.length, pred.length);
  const pts = [];
  for (let k = 0; k < n; k++) pts.push({ x: obs[k], y: pred[k] });

  new Chart(canvas.getContext('2d'), {
    type: 'scatter',
    data: {
      datasets: [
        {
          type: 'line',
          data: identityEnds.map(v => ({ x: v, y: v })),
          borderColor: '#333333', borderWidth: 0.9, borderDash: [4, 3],
          pointRadius: 0, fill: false, tension: 0, order: 0
        },
        {
          data: pts,
          backgroundColor: 'rgba(0,0,0,0.55)',
          borderColor: 'rgba(0,0,0,0.6)',
          borderWidth: 1,
          pointRadius: 2.5,
          order: 1
        }
      ]
    },
    options: {
      responsive: false, animation: false, events: [],
      devicePixelRatio: 1,
      layout: { padding: 0, autoPadding: false },
      plugins: { legend: { display: false }, tooltip: { enabled: false } },
      scales: {
        x: {
          type: 'linear', position: 'bottom', min: xLimits[0], max: xLimits[1],
          afterBuildTicks: s => { s.ticks = xGridValues.map(v => ({ value: v })); },
          afterFit: s => { s.height = showX ? X_AXIS_H : 0; s.paddingLeft = 0; s.paddingRight = 0; },
          border: { display: false },
          grid: {
            drawTicks: showX, tickLength: 4,
            color: c => isMajorX(tickVal(c)) ? '#ebebeb' : '#f1f1f1',
            lineWidth: c => isMajorX(tickVal(c)) ? 1.1 : 0.6,
            tickColor: c => isMajorX(tickVal(c)) ? '#333333' : 'rgba(0,0,0,0)',
            tickWidth: 1
          },
          ticks: {
            display: showX, autoSkip: false, maxRotation: 0, minRotation: 0,
            padding: 3, color: '#4d4d4d', font: { size: 13, family: FONT },
            callback: v => isMajorX(v) ? String(v) : ''
          }
        },
        y: {
          type: 'linear', position: 'left', min: yLimits[0], max: yLimits[1],
          afterBuildTicks: s => { s.ticks = yGridValues.map(v => ({ value: v })); },
          afterFit: s => { s.width = showY ? Y_AXIS_W : 0; s.paddingTop = 0; s.paddingBottom = 0; },
          border: { display: false },
          grid: {
            drawTicks: showY, tickLength: 4,
            color: c => isMajorY(tickVal(c)) ? '#ebebeb' : '#f1f1f1',
            lineWidth: c => isMajorY(tickVal(c)) ? 1.1 : 0.6,
            tickColor: c => isMajorY(tickVal(c)) ? '#333333' : 'rgba(0,0,0,0)',
            tickWidth: 1
          },
          ticks: {
            display: showY, autoSkip: false,
            padding: 5, color: '#4d4d4d', font: { size: 13, family: FONT },
            callback: v => isMajorY(v) ? String(v) : ''
          }
        }
      }
    },
    plugins: [framePlugin]
  });
});
</script>
</body>
</html>
